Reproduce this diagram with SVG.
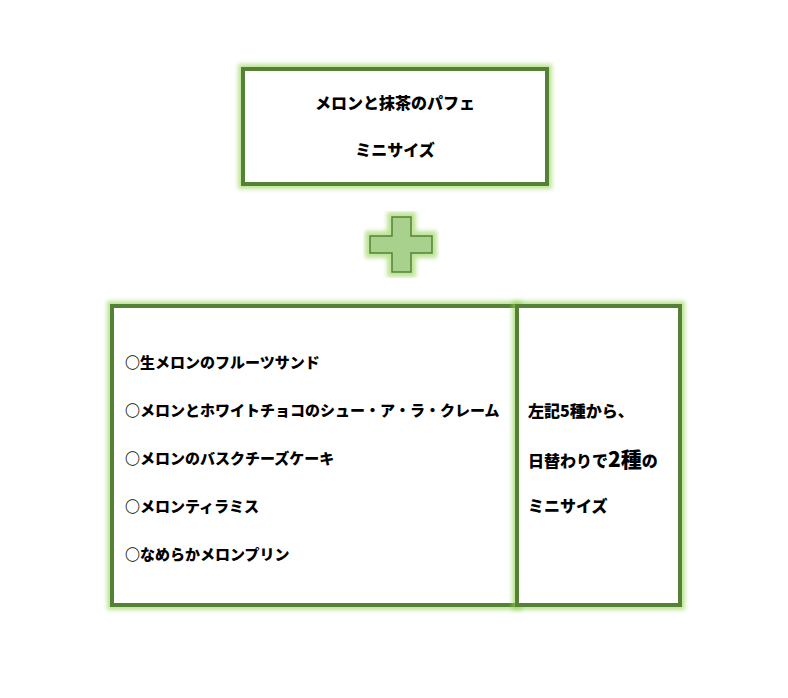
<svg xmlns="http://www.w3.org/2000/svg" width="788" height="698" viewBox="0 0 788 698">
<style>
.box{fill:#ffffff;stroke:#548235;stroke-width:4}
.glow{fill:none;stroke:#92d050;stroke-width:10;stroke-opacity:0.6;filter:url(#blur)}
.t{font-family:"Noto Sans CJK JP","Noto Sans",sans-serif;font-weight:900;font-size:15px;fill:#000}
.l{font-size:16px}
</style>
<defs>
<filter id="blur" x="-10%" y="-10%" width="120%" height="120%"><feGaussianBlur stdDeviation="2.2"/></filter>
</defs>
<rect width="788" height="698" fill="#ffffff"/>
<g id="top">
<rect class="glow" x="243" y="69" width="304" height="115"/>
<rect class="box" x="243" y="69" width="304" height="115"/>
<text class="t l" x="395" y="109" text-anchor="middle">メロンと抹茶のパフェ</text>
<text class="t l" x="395" y="156" text-anchor="middle">ミニサイズ</text>
</g>
<g id="plus">
<path class="glow" d="M392 217H411V236H432V253H411V272H392V253H370V236H392Z"/>
<path d="M392 217H411V236H432V253H411V272H392V253H370V236H392Z" fill="#a9d18e" stroke="#548235" stroke-width="1.5"/>
</g>
<g id="list">
<rect class="glow" x="112" y="306" width="405" height="299"/>
<rect class="box" x="112" y="306" width="405" height="299"/>
<text class="t" x="125" y="368">○生メロンのフルーツサンド</text>
<text class="t" x="125" y="416">○メロンとホワイトチョコのシュー・ア・ラ・クレーム</text>
<text class="t" x="125" y="464">○メロンのバスクチーズケーキ</text>
<text class="t" x="125" y="512">○メロンティラミス</text>
<text class="t" x="125" y="560">○なめらかメロンプリン</text>
</g>
<g id="note">
<rect class="glow" x="517" y="306" width="163" height="299"/>
<rect class="box" x="517" y="306" width="163" height="299"/>
<text class="t l" x="528" y="417">左記5種から、</text>
<text class="t l" x="528" y="467">日替わりで<tspan font-size="21">2種</tspan>の</text>
<text class="t l" x="528" y="512">ミニサイズ</text>
</g>
<g id="connectors"></g>
</svg>
